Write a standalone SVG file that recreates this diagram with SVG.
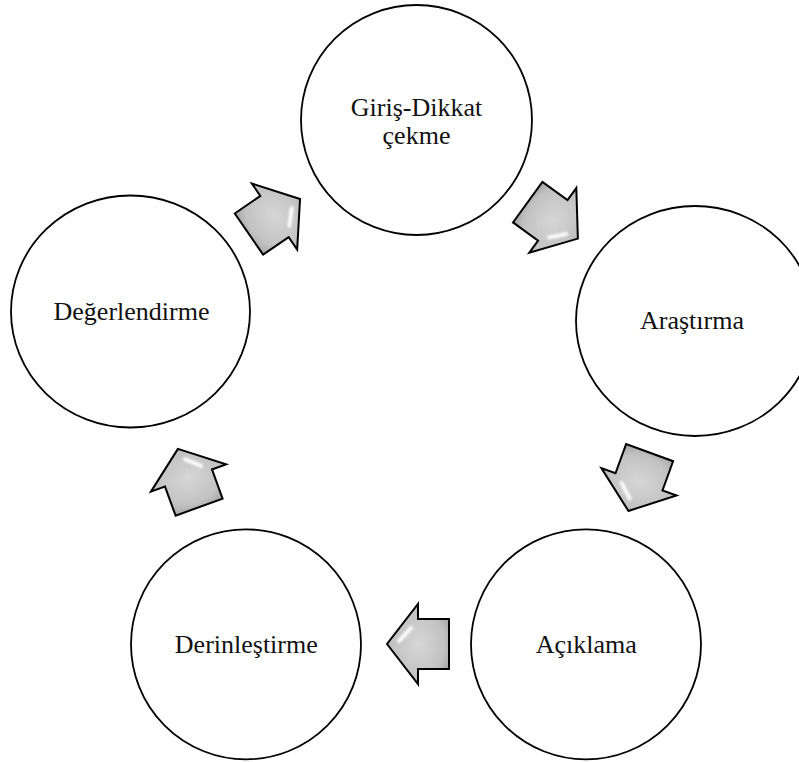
<svg xmlns="http://www.w3.org/2000/svg" xmlns:xlink="http://www.w3.org/1999/xlink" width="799" height="762" viewBox="0 0 799 762">
<style>
.node { fill: #ffffff; stroke: #000000; stroke-width: 1.8; }
.label { font-family: "Liberation Serif", "Times New Roman", serif; font-size: 26px; fill: #111111; text-anchor: middle; }
.arrow { fill: url(#grey); stroke: #000000; stroke-width: 2; stroke-linejoin: miter; }
.hl { fill: none; stroke: #ffffff; stroke-width: 4; stroke-linecap: round; opacity: 0.95; filter: url(#soft); }
</style>
<defs>
<radialGradient id="grey" cx="0.5" cy="0.5" r="0.6">
<stop offset="0" stop-color="#d6d6d6"/>
<stop offset="0.7" stop-color="#c2c2c2"/>
<stop offset="1" stop-color="#a2a2a2"/>
</radialGradient>
<filter id="soft" x="-50%" y="-50%" width="200%" height="200%">
<feGaussianBlur stdDeviation="0.9"/>
</filter>
<g id="arr">
<polygon class="arrow" points="31,0 0,-40 0,-25 -31,-25 -31,25 0,25 0,40"/>
<path class="hl" d="M19,3 L7,16"/>
<path class="hl" d="M-19,-13 L-19,11"/>
</g>
</defs>

<g id="connectors">
<use xlink:href="#arr" transform="translate(274.5,216.5) rotate(-34.5)"/>
<use xlink:href="#arr" transform="translate(552.8,220.4) rotate(36)"/>
<use xlink:href="#arr" transform="translate(639,481.8) rotate(110)"/>
<use xlink:href="#arr" transform="translate(418,644) rotate(180)"/>
<use xlink:href="#arr" transform="translate(188.5,478) rotate(250)"/>
</g>

<g id="node-giris">
<ellipse class="node" cx="416.5" cy="120" rx="115.5" ry="115"/>
<text class="label" x="416.5" y="115.5">Giriş-Dikkat</text>
<text class="label" x="416.5" y="144">çekme</text>
</g>

<g id="node-arastirma">
<ellipse class="node" cx="695" cy="321" rx="119" ry="115"/>
<text class="label" x="692" y="329">Araştırma</text>
</g>

<g id="node-aciklama">
<ellipse class="node" cx="586" cy="644.3" rx="115" ry="115"/>
<text class="label" x="586.3" y="653.3">Açıklama</text>
</g>

<g id="node-derinlestirme">
<ellipse class="node" cx="246" cy="644.3" rx="115" ry="115"/>
<text class="label" x="246.3" y="653.3">Derinleştirme</text>
</g>

<g id="node-degerlendirme">
<ellipse class="node" cx="130.5" cy="311.5" rx="119.5" ry="116"/>
<text class="label" x="131.5" y="320">Değerlendirme</text>
</g>
</svg>
